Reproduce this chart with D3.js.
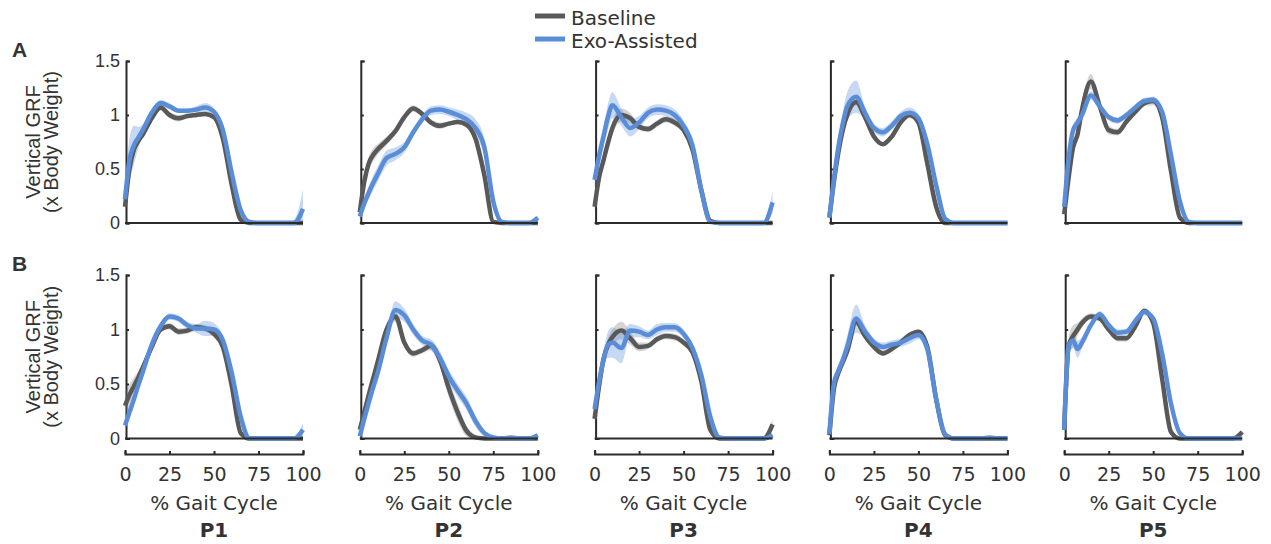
<!DOCTYPE html>
<html>
<head>
<meta charset="utf-8">
<script src="https://cdnjs.cloudflare.com/ajax/libs/d3/7.8.5/d3.min.js"></script>
<style>
  body { margin: 0; background: #fff; }
  svg text { fill: #333; }
</style>
</head>
<body>
<svg id="chart" width="1271" height="544"></svg>
<script>
// % gait cycle sample points (shared by every curve)
var gaitPct = [0, 2.5, 5, 7.5, 10, 15, 20, 25, 30, 35, 40, 45, 50, 55, 60, 65, 70, 75, 80, 85, 90, 95, 100];
var participants = ['P1', 'P2', 'P3', 'P4', 'P5'];
var yTicks = [0, 0.5, 1, 1.5];
var xTicks = [0, 25, 50, 75, 100];
var seriesNames = ['Baseline', 'Exo-Assisted'];

// row A, mean vertical GRF (x body weight)
var baselineA = [
  [0.15,0.5,0.68,0.76,0.82,0.97,1.07,1.0,0.97,0.99,1.0,1.01,0.98,0.78,0.35,0.03,0,0,0,0,0,0,0],
  [0.1,0.38,0.55,0.63,0.68,0.76,0.85,0.98,1.06,1.01,0.93,0.9,0.92,0.935,0.91,0.78,0.44,0.01,0,0,0,0,0],
  [0.15,0.42,0.58,0.74,0.88,1.0,0.97,0.89,0.87,0.92,0.96,0.93,0.86,0.68,0.3,0.02,0,0,0,0,0,0,0],
  [0.05,0.38,0.65,0.86,1.0,1.12,0.98,0.8,0.73,0.8,0.93,1.0,0.93,0.55,0.15,0,0,0,0,0,0,0,0],
  [0.08,0.42,0.7,0.82,1.05,1.31,1.08,0.86,0.84,0.94,1.03,1.11,1.13,0.98,0.48,0.05,0,0,0,0,0,0,0]
];
var exoA = [
  [0.22,0.58,0.72,0.79,0.86,1.02,1.11,1.08,1.04,1.04,1.05,1.07,1.03,0.86,0.46,0.12,0.01,0,0,0,0,0,0.13],
  [0.06,0.18,0.28,0.37,0.45,0.6,0.64,0.7,0.84,0.96,1.04,1.05,1.03,1.0,0.96,0.88,0.7,0.2,0.01,0,0,0,0.05],
  [0.4,0.62,0.8,0.98,1.09,0.98,0.88,0.93,1.02,1.05,1.04,1.0,0.9,0.72,0.3,0.01,0,0,0,0,0,0,0.19],
  [0.05,0.4,0.7,0.92,1.08,1.17,1.02,0.88,0.84,0.9,0.99,1.02,0.97,0.73,0.35,0.04,0,0,0,0,0,0,0],
  [0.15,0.6,0.86,0.93,1.0,1.18,1.08,0.98,0.95,1.0,1.07,1.13,1.14,1.03,0.63,0.2,0.01,0,0,0,0,0,0]
];
// row B
var baselineB = [
  [0.3,0.4,0.48,0.56,0.65,0.84,1.0,1.03,0.98,0.99,1.02,1.01,0.96,0.84,0.48,0.05,0,0,0,0,0,0,0],
  [0.08,0.24,0.4,0.55,0.7,1.0,1.12,0.88,0.78,0.81,0.85,0.72,0.46,0.24,0.07,0.01,0,0,0,0,0,0,0],
  [0.18,0.48,0.73,0.86,0.93,0.99,0.92,0.84,0.85,0.91,0.94,0.93,0.88,0.79,0.52,0.08,0,0,0,0,0,0,0.13],
  [0.03,0.45,0.6,0.7,0.8,1.07,0.94,0.84,0.78,0.82,0.88,0.95,0.98,0.84,0.36,0.03,0,0,0,0,0,0,0],
  [0.08,0.85,0.94,1.0,1.06,1.12,1.1,1.0,0.92,0.92,1.03,1.17,1.06,0.55,0.06,0,0,0,0,0,0,0,0.06]
];
var exoB = [
  [0.12,0.24,0.36,0.49,0.61,0.86,1.03,1.12,1.1,1.04,1.01,1.01,1.0,0.9,0.6,0.2,0,0,0,0,0,0,0.08],
  [0.02,0.18,0.33,0.47,0.6,0.92,1.18,1.13,1.0,0.9,0.86,0.74,0.57,0.44,0.32,0.16,0.05,0.01,0,0.01,0,0,0.03],
  [0.27,0.52,0.72,0.86,0.88,0.83,0.99,0.98,0.95,1.0,1.02,1.02,0.96,0.83,0.58,0.2,0.01,0,0,0,0,0,0.03],
  [0.04,0.5,0.62,0.72,0.84,1.1,0.98,0.88,0.84,0.86,0.88,0.92,0.95,0.82,0.36,0.04,0,0,0,0,0.01,0,0],
  [0.08,0.85,0.9,0.82,0.88,1.04,1.14,1.04,0.97,0.98,1.08,1.16,1.1,0.78,0.32,0.05,0,0,0,0,0,0,0]
];

// spread (shaded band half-width)
var baselineSdA = [
  [0.05,0.06,0.05,0.04,0.03,0.03,0.03,0.03,0.03,0.02,0.02,0.02,0.02,0.03,0.04,0.02,0,0,0,0,0,0,0],
  [0.03,0.05,0.06,0.06,0.05,0.04,0.03,0.03,0.03,0.03,0.03,0.03,0.02,0.02,0.03,0.04,0.05,0.02,0,0,0,0,0.01],
  [0.05,0.05,0.05,0.05,0.06,0.06,0.05,0.03,0.03,0.03,0.03,0.03,0.03,0.04,0.04,0.02,0,0,0,0,0,0,0],
  [0.02,0.03,0.04,0.04,0.04,0.03,0.03,0.03,0.02,0.02,0.02,0.02,0.02,0.03,0.03,0.01,0,0,0,0,0,0,0],
  [0.02,0.04,0.05,0.06,0.06,0.07,0.05,0.04,0.03,0.03,0.03,0.03,0.04,0.04,0.04,0.02,0,0,0,0,0,0,0]
];
var exoSdA = [
  [0.15,0.2,0.18,0.1,0.05,0.03,0.03,0.03,0.02,0.02,0.03,0.04,0.03,0.04,0.05,0.04,0.01,0,0,0,0,0.03,0.18],
  [0.03,0.05,0.06,0.07,0.07,0.07,0.06,0.05,0.04,0.04,0.04,0.04,0.04,0.05,0.06,0.08,0.08,0.05,0.01,0,0,0,0.02],
  [0.08,0.1,0.1,0.12,0.12,0.08,0.08,0.06,0.05,0.05,0.05,0.05,0.05,0.05,0.05,0.02,0,0,0,0,0,0.02,0.1],
  [0.02,0.05,0.07,0.1,0.13,0.15,0.06,0.04,0.04,0.04,0.04,0.05,0.04,0.04,0.04,0.02,0,0,0,0,0,0,0],
  [0.03,0.06,0.05,0.05,0.05,0.04,0.03,0.03,0.03,0.03,0.03,0.03,0.03,0.04,0.05,0.04,0.01,0,0,0,0,0,0]
];
var baselineSdB = [
  [0.12,0.1,0.08,0.06,0.05,0.04,0.03,0.03,0.03,0.03,0.03,0.03,0.03,0.04,0.05,0.03,0,0,0,0,0,0,0],
  [0.02,0.04,0.05,0.05,0.05,0.05,0.05,0.04,0.03,0.03,0.04,0.06,0.08,0.08,0.05,0.02,0,0,0,0,0,0,0],
  [0.04,0.05,0.05,0.06,0.07,0.08,0.06,0.04,0.03,0.03,0.03,0.03,0.03,0.04,0.05,0.03,0,0,0,0,0,0.01,0.05],
  [0.02,0.03,0.03,0.03,0.04,0.03,0.03,0.03,0.02,0.02,0.02,0.02,0.02,0.03,0.03,0.01,0,0,0,0,0,0,0],
  [0.03,0.08,0.1,0.06,0.04,0.03,0.03,0.03,0.03,0.03,0.03,0.03,0.03,0.03,0.03,0.01,0,0,0,0,0,0,0.02]
];
var exoSdB = [
  [0.04,0.05,0.05,0.05,0.04,0.04,0.03,0.03,0.03,0.03,0.04,0.07,0.06,0.04,0.04,0.03,0,0,0,0,0,0.01,0.06],
  [0.02,0.06,0.08,0.08,0.07,0.06,0.08,0.06,0.05,0.04,0.05,0.06,0.06,0.06,0.06,0.05,0.03,0.01,0,0,0,0,0.01],
  [0.05,0.06,0.08,0.12,0.14,0.14,0.06,0.05,0.04,0.05,0.04,0.04,0.04,0.04,0.05,0.04,0.01,0,0,0,0,0,0.01],
  [0.02,0.04,0.05,0.07,0.1,0.13,0.06,0.04,0.04,0.04,0.04,0.05,0.04,0.03,0.03,0.01,0,0,0,0,0,0,0],
  [0.03,0.05,0.07,0.08,0.05,0.03,0.03,0.03,0.03,0.03,0.03,0.03,0.03,0.03,0.03,0.02,0,0,0,0,0,0,0]
];

var grey = '#595959', blue = '#5a8dd8';
var greyBand = 'rgba(120,120,120,0.32)', blueBand = 'rgba(90,141,216,0.34)';
var axisColor = '#2b2b2b';
var helv = "'Liberation Sans', Arial, sans-serif";
var dejavu = "'DejaVu Sans', sans-serif";

var svg = d3.select('#chart');

var rows = [
  { letter: 'A', top: 61, bottom: 223, base: baselineA, exo: exoA, baseSd: baselineSdA, exoSd: exoSdA, xAxis: false },
  { letter: 'B', top: 275, bottom: 438.5, base: baselineB, exo: exoB, baseSd: baselineSdB, exoSd: exoSdB, xAxis: true }
];

var panelW = 178;

function toPoints(vals, sds) {
  return gaitPct.map(function (p, i) { return { p: p, v: vals[i], sd: sds[i] }; });
}

function styleAxis(g) {
  g.selectAll('path.domain').attr('stroke', axisColor).attr('stroke-width', 2);
  g.selectAll('.tick line').attr('stroke', axisColor).attr('stroke-width', 2);
}

rows.forEach(function (row) {
  var y = d3.scaleLinear().domain([0, 1.5]).range([row.bottom, row.top]);

  svg.append('text')
    .attr('x', 12).attr('y', row.top - 4)
    .style('font-family', helv)
    .style('font-weight', 'bold').style('font-size', '21px')
    .text(row.letter);

  var cy = (row.top + row.bottom) / 2;
  var ttl = svg.append('g').style('font-family', helv).style('font-size', '20px');
  ttl.append('text').attr('transform', 'translate(40,' + cy + ') rotate(-90)')
    .attr('text-anchor', 'middle').text('Vertical GRF');
  ttl.append('text').attr('transform', 'translate(58,' + cy + ') rotate(-90)')
    .attr('text-anchor', 'middle').text('(x Body Weight)');

  participants.forEach(function (name, c) {
    var x0 = 125 + c * 234.8;
    var x = d3.scaleLinear().domain([0, 100]).range([x0, x0 + panelW]);
    var g = svg.append('g');

    var area = d3.area()
      .x(function (d) { return x(d.p); })
      .y0(function (d) { return y(Math.max(0, d.v - d.sd)); })
      .y1(function (d) { return y(d.v + d.sd); })
      .curve(d3.curveMonotoneX);
    var line = d3.line()
      .x(function (d) { return x(d.p); })
      .y(function (d) { return y(d.v); })
      .curve(d3.curveMonotoneX);

    var basePts = toPoints(row.base[c], row.baseSd[c]);
    var exoPts = toPoints(row.exo[c], row.exoSd[c]);

    // y axis (labels only on first column)
    var ya = g.append('g')
      .attr('transform', 'translate(' + (x0 + 1) + ',0)')
      .call(d3.axisLeft(y).tickValues(yTicks).tickSize(-3).tickSizeOuter(-4).tickPadding(6)
        .tickFormat(c === 0 ? d3.format('~g') : function () { return ''; }));
    styleAxis(ya);
    ya.selectAll('text').style('font-family', helv).style('font-size', '18px').attr('fill', '#333');

    g.append('path').datum(basePts).attr('d', area).attr('fill', greyBand);
    g.append('path').datum(exoPts).attr('d', area).attr('fill', blueBand);
    g.append('path').datum(basePts).attr('d', line).attr('fill', 'none')
      .attr('stroke', grey).attr('stroke-width', 4.5).attr('stroke-linejoin', 'round');
    g.append('path').datum(exoPts).attr('d', line).attr('fill', 'none')
      .attr('stroke', blue).attr('stroke-width', 4.5).attr('stroke-linejoin', 'round');

    // zero line
    g.append('line')
      .attr('x1', x(0)).attr('x2', x(100))
      .attr('y1', y(0)).attr('y2', y(0))
      .attr('stroke', axisColor).attr('stroke-width', 2);

    if (row.xAxis) {
      var xa = g.append('g')
        .attr('transform', 'translate(0,' + (row.bottom + 15.5) + ')')
        .call(d3.axisBottom(x).tickValues(xTicks).tickSize(-3).tickSizeOuter(-4).tickPadding(14));
      styleAxis(xa);
      xa.selectAll('text').style('font-family', dejavu).style('font-size', '19px').attr('fill', '#333');

      g.append('text')
        .attr('x', x(50)).attr('y', 510)
        .attr('text-anchor', 'middle')
        .style('font-family', dejavu).style('font-size', '20px')
        .text('% Gait Cycle');
      g.append('text')
        .attr('x', x(50)).attr('y', 537)
        .attr('text-anchor', 'middle')
        .style('font-family', dejavu).style('font-size', '20px').style('font-weight', 'bold')
        .text(name);
    }
  });
});

// legend
var legend = svg.append('g').attr('transform', 'translate(535,0)');
[grey, blue].forEach(function (col, i) {
  var ly = 16 + i * 23;
  legend.append('line').attr('x1', 0).attr('x2', 30).attr('y1', ly).attr('y2', ly)
    .attr('stroke', col).attr('stroke-width', 5);
  legend.append('text').attr('x', 36).attr('y', ly + 9)
    .style('font-family', dejavu).style('font-size', '20px')
    .text(seriesNames[i]);
});
</script>
</body>
</html>
